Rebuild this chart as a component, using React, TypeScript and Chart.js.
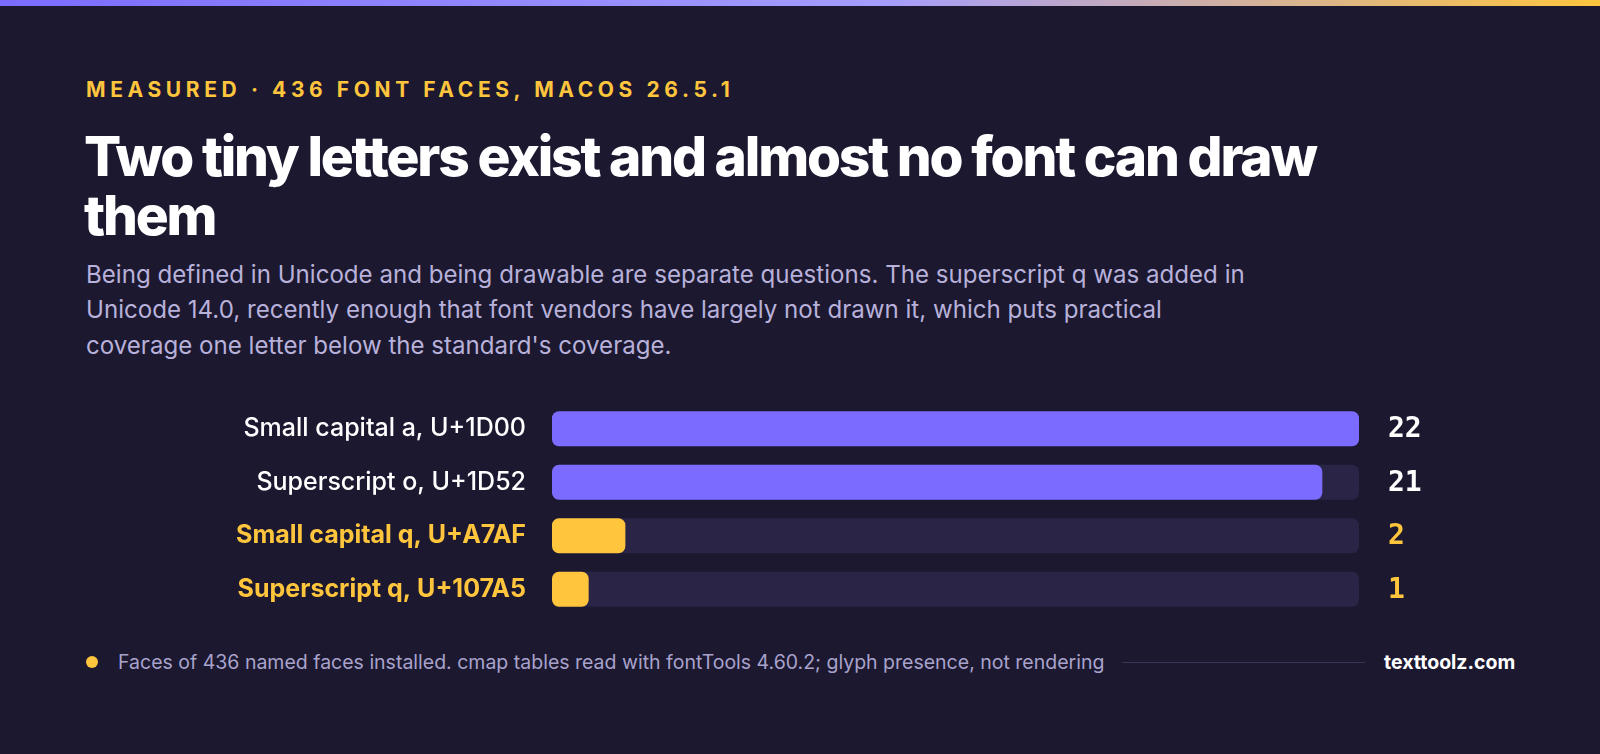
import React, { useEffect, useRef } from "react";
import { Chart, registerables } from "chart.js";

Chart.register(...registerables);

const categories = [
  "Small capital a, U+1D00",
  "Superscript o, U+1D52",
  "Small capital q, U+A7AF",
  "Superscript q, U+107A5",
];
const faceCounts = [22, 21, 2, 1];
const highlighted = [false, false, true, true];

const eyebrow = "MEASURED · 436 FONT FACES, MACOS 26.5.1";
const titleLines = ["Two tiny letters exist and almost no font can draw", "them"];
const subtitleLines = [
  "Being defined in Unicode and being drawable are separate questions. The superscript q was added in",
  "Unicode 14.0, recently enough that font vendors have largely not drawn it, which puts practical",
  "coverage one letter below the standard's coverage.",
];
const footnote =
  "Faces of 436 named faces installed. cmap tables read with fontTools 4.60.2; glyph presence, not rendering";
const brand = "texttoolz.com";

const BG = "#1b1830";
const PURPLE = "#7b6cff";
const YELLOW = "#ffc53d";
const TRACK = "#2a2446";
const LAVENDER = "#b8b1da";

const valueLabels = {
  id: "valueLabels",
  afterDatasetsDraw(chart: any) {
    const ctx = chart.ctx;
    const meta = chart.getDatasetMeta(1);
    ctx.save();
    ctx.font = "bold 28px 'DejaVu Sans Mono'";
    ctx.textBaseline = "middle";
    ctx.textAlign = "left";
    meta.data.forEach((bar: any, i: number) => {
      ctx.fillStyle = highlighted[i] ? YELLOW : "#ffffff";
      ctx.fillText(String(faceCounts[i]), chart.chartArea.right + 29, bar.y + 1);
    });
    ctx.restore();
  },
};

function BarChart() {
  const ref = useRef<HTMLCanvasElement>(null);
  useEffect(() => {
    if (!ref.current) return;
    const maxVal = Math.max(...faceCounts);
    const chart = new Chart(ref.current, {
      type: "bar",
      data: {
        labels: categories,
        datasets: [
          {
            label: "track",
            data: faceCounts.map(() => maxVal),
            backgroundColor: TRACK,
            borderRadius: 7,
            borderSkipped: false,
            grouped: false,
            order: 2,
            barPercentage: 0.655,
            categoryPercentage: 1,
          },
          {
            label: "Faces",
            data: faceCounts,
            backgroundColor: highlighted.map((h) => (h ? YELLOW : PURPLE)),
            borderRadius: 7,
            borderSkipped: false,
            grouped: false,
            order: 1,
            barPercentage: 0.655,
            categoryPercentage: 1,
          },
        ],
      },
      options: {
        indexAxis: "y",
        animation: false,
        responsive: false,
        devicePixelRatio: 1,
        layout: { padding: { left: 0, right: 241, top: 0, bottom: 0 } },
        plugins: { legend: { display: false }, tooltip: { enabled: false } },
        scales: {
          x: { display: false, min: 0, max: maxVal },
          y: {
            border: { display: false },
            grid: { display: false, drawTicks: false },
            afterFit: (scale: any) => {
              scale.width = 552;
              scale.paddingTop = 0;
              scale.paddingBottom = 0;
            },
            ticks: {
              padding: 26,
              color: (c: any) => (highlighted[c.index] ? YELLOW : "#ffffff"),
              font: (c: any) => ({
                family: "Inter",
                size: 25,
                weight: highlighted[c.index] ? "bold" : "500",
              }),
            },
          },
        },
      },
      plugins: [valueLabels],
    });
    return () => chart.destroy();
  }, []);
  return (
    <canvas
      ref={ref}
      width={1600}
      height={214}
      style={{ position: "absolute", left: 0, top: 402, width: 1600, height: 214 }}
    />
  );
}

export default function App() {
  return (
    <div
      style={{
        position: "fixed",
        left: 0,
        top: 0,
        width: 1600,
        height: 754,
        background: BG,
        overflow: "hidden",
        fontFamily: "Inter, sans-serif",
      }}
    >
      <div
        style={{
          position: "absolute",
          left: 0,
          top: 0,
          width: 1600,
          height: 6,
          background: `linear-gradient(90deg, ${PURPLE} 0%, #a59dff 55%, #ffc53d 100%)`,
        }}
      />
      <div
        style={{
          position: "absolute",
          left: 86,
          top: 77,
          lineHeight: "26px",
          fontSize: 21,
          fontWeight: 700,
          letterSpacing: 4.6,
          color: YELLOW,
          whiteSpace: "nowrap",
        }}
      >
        {eyebrow}
      </div>
      <div
        style={{
          position: "absolute",
          left: 84,
          top: 127,
          fontSize: 55,
          lineHeight: "59px",
          fontWeight: 800,
          letterSpacing: -2.2,
          color: "#ffffff",
          whiteSpace: "nowrap",
        }}
      >
        {titleLines.map((l, i) => (
          <div key={i}>{l}</div>
        ))}
      </div>
      <div
        style={{
          position: "absolute",
          left: 86,
          top: 257,
          fontSize: 24.1,
          lineHeight: "35.3px",
          color: LAVENDER,
          whiteSpace: "nowrap",
        }}
      >
        {subtitleLines.map((l, i) => (
          <div key={i}>{l}</div>
        ))}
      </div>
      <BarChart />
      <div
        style={{
          position: "absolute",
          left: 86,
          top: 656,
          width: 12,
          height: 12,
          borderRadius: 6,
          background: YELLOW,
        }}
      />
      <div
        style={{
          position: "absolute",
          left: 118,
          top: 650,
          lineHeight: "24px",
          fontSize: 19.5,
          color: "#a9a3cc",
          whiteSpace: "nowrap",
        }}
      >
        {footnote}
      </div>
      <div
        style={{
          position: "absolute",
          left: 1122,
          top: 662,
          width: 243,
          height: 1,
          background: "#3a3556",
        }}
      />
      <div
        style={{
          position: "absolute",
          left: 1384,
          top: 650,
          lineHeight: "24px",
          fontSize: 19.5,
          fontWeight: 700,
          color: "#ffffff",
          whiteSpace: "nowrap",
        }}
      >
        {brand}
      </div>
    </div>
  );
}
